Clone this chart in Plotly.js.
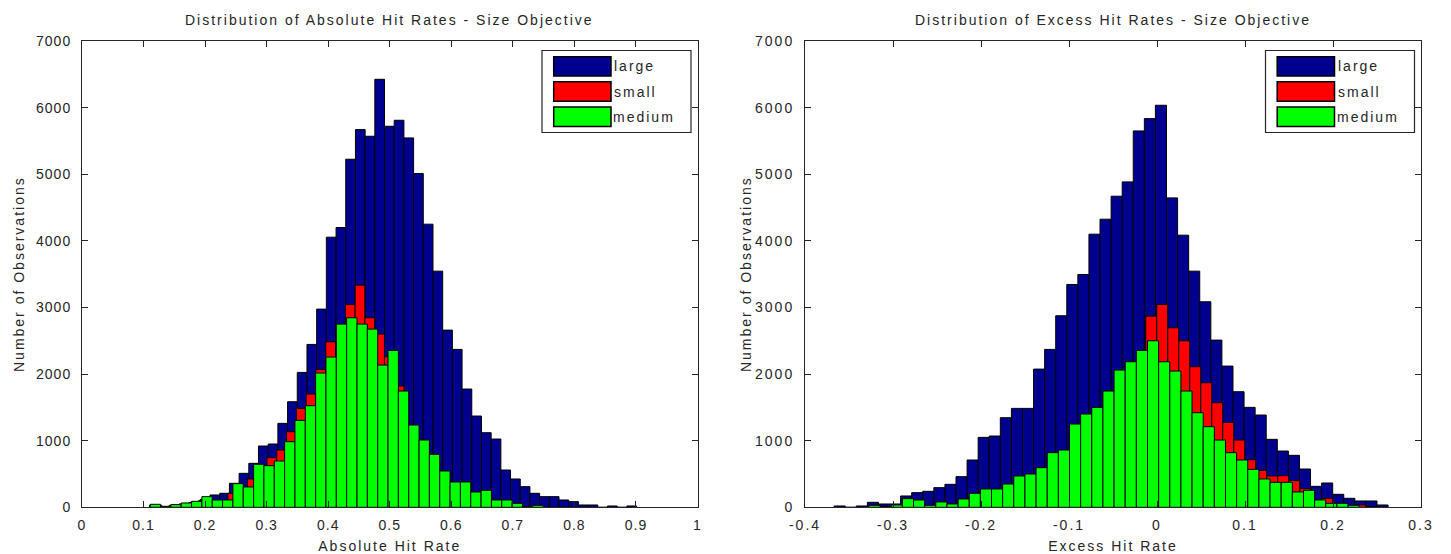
<!DOCTYPE html>
<html>
<head>
<meta charset="utf-8">
<script src="https://cdn.plot.ly/plotly-3.0.1.min.js"></script>
<style>
html, body { margin: 0; padding: 0; background: #ffffff; }
#chart { width: 1451px; height: 554px; }
.main-svg text { letter-spacing: 2px; }
.xtick text, .ytick text { letter-spacing: 1px !important; }
</style>
</head>
<body>
<div id="chart"></div>
<script>
// ---------- series ----------
const seriesNames = ['large', 'small', 'medium'];
const seriesColors = ['#00008f', '#ff0000', '#00ff00'];

// ---------- left panel: Absolute Hit Rate (each series has its own histogram bins) ----------
const absLargeBinStart = 0.1135, absLargeBinWidth = 0.01575;
const absLarge = [30, 10, 35, 55, 80, 120, 185, 210, 360, 510,
                  660, 920, 950, 1260, 1585, 2025, 2445, 2975, 4055, 4200,
                  5225, 5670, 5570, 6425, 5720, 5810, 5545, 5010, 4250, 3545,
                  2660, 2370, 1775, 1370, 1120, 1025, 560, 425, 310, 210,
                  160, 160, 110, 85, 35, 35, 0, 20, 0, 20];

const absSmallBinStart = 0.1098, absSmallBinWidth = 0.0159;
const absSmall = [30, 10, 30, 50, 70, 100, 100, 100, 210, 290,
                  425, 560, 745, 860, 1135, 1485, 1700, 2070, 2485, 2700,
                  3045, 3335, 2845, 2600, 2260, 1820, 1200, 950, 760, 520,
                  370, 340, 220, 200, 150, 100, 80, 40, 10, 5];

const absMediumBinStart = 0.1108, absMediumBinWidth = 0.0168;
const absMedium = [45, 15, 40, 65, 90, 160, 110, 110, 355, 305,
                   645, 625, 695, 985, 1305, 1525, 2015, 2255, 2750, 2845,
                   2750, 2675, 2135, 2355, 1745, 1235, 1010, 795, 545, 380,
                   380, 230, 255, 110, 110, 60, 10, 30];

// ---------- right panel: Excess Hit Rate ----------
const excLargeBinStart = -0.3669, excLargeBinWidth = 0.01259;
const excLarge = [20, 0, 20, 75, 50, 50, 170, 220, 240, 295,
                  345, 460, 710, 1050, 1070, 1345, 1485, 1485, 2075, 2370,
                  2875, 3345, 3495, 4100, 4325, 4670, 4885, 5650, 5835, 6035,
                  4645, 4085, 3545, 3085, 2510, 2120, 1735, 1500, 1385, 1020,
                  845, 780, 575, 315, 365, 195, 135, 95, 95, 35];

const excSmallBinStart = -0.3253, excSmallBinWidth = 0.0125;
const excSmall = [10, 10, 30, 100, 25, 25, 45, 45, 115, 200,
                  260, 260, 330, 340, 450, 480, 580, 800, 840, 1230,
                  1380, 1480, 1720, 2030, 2150, 2870, 3045, 2695, 2500, 2110,
                  1870, 1570, 1275, 1010, 715, 555, 470, 475, 400, 280,
                  100, 135, 50, 25, 35, 10];

const excMediumBinStart = -0.3273, excMediumBinWidth = 0.01266;
const excMedium = [30, 10, 35, 130, 110, 30, 80, 50, 125, 210,
                   275, 275, 350, 470, 500, 595, 820, 860, 1250, 1400,
                   1500, 1745, 2060, 2185, 2355, 2500, 2185, 2045, 1745, 1420,
                   1210, 1010, 820, 710, 570, 425, 375, 375, 230, 255,
                   110, 60, 60, 30];

// ---------- tick labels & texts ----------
const absTickLabels = ['0', '0.1', '0.2', '0.3', '0.4', '0.5', '0.6', '0.7', '0.8', '0.9', '1'];
const excTickLabels = ['-0.4', '-0.3', '-0.2', '-0.1', '0', '0.1', '0.2', '0.3'];
const countTickLabels = ['0', '1000', '2000', '3000', '4000', '5000', '6000', '7000'];
const leftTitle = 'Distribution of Absolute Hit Rates - Size Objective';
const rightTitle = 'Distribution of Excess Hit Rates - Size Objective';
const leftXTitle = 'Absolute Hit Rate';
const rightXTitle = 'Excess Hit Rate';
const yTitle = 'Number of Observations';

// ---------- layout helpers (pixel geometry of the figure) ----------
const W = 1451, H = 554;
const fx = v => v / W;
const fy = v => 1 - v / H;
const FONT = 'Liberation Sans, Arial, Helvetica, sans-serif';
const TXT = '#262626';

const plotTop = 41, plotBottom = 507.3;
const leftPlot = [82, 697.5];
const rightPlot = [805, 1421];

function histTrace(values, start, width, idx, xa, ya) {
  return {
    type: 'bar',
    name: seriesNames[idx],
    y: values,
    x0: start + width / 2,
    dx: width,
    width: width,
    xaxis: xa, yaxis: ya,
    marker: { color: seriesColors[idx], line: { color: '#000000', width: 1 } },
    showlegend: false,
    hoverinfo: 'skip'
  };
}

const traces = [
  histTrace(absLarge, absLargeBinStart, absLargeBinWidth, 0, 'x', 'y'),
  histTrace(absSmall, absSmallBinStart, absSmallBinWidth, 1, 'x', 'y'),
  histTrace(absMedium, absMediumBinStart, absMediumBinWidth, 2, 'x', 'y'),
  histTrace(excLarge, excLargeBinStart, excLargeBinWidth, 0, 'x2', 'y2'),
  histTrace(excSmall, excSmallBinStart, excSmallBinWidth, 1, 'x2', 'y2'),
  histTrace(excMedium, excMediumBinStart, excMediumBinWidth, 2, 'x2', 'y2')
];

const tickFont = { family: FONT, size: 14, color: TXT };
const titleFont = { family: FONT, size: 14, color: TXT };

function baseAxis() {
  return {
    showline: true, linecolor: TXT, linewidth: 1, mirror: 'ticks',
    ticks: 'inside', ticklen: 6, tickwidth: 1, tickcolor: TXT,
    showgrid: false, zeroline: false, fixedrange: true,
    tickfont: tickFont, automargin: true
  };
}

function xAxis(domainPx, labels, titleText, anchor) {
  const vals = labels.map(Number);
  return Object.assign(baseAxis(), {
    domain: [fx(domainPx[0]), fx(domainPx[1])],
    range: [vals[0], vals[vals.length - 1]],
    tickmode: 'array', tickvals: vals, ticktext: labels,
    ticklabelstandoff: 5,
    anchor: anchor,
    title: { text: titleText, font: titleFont, standoff: 9 }
  });
}

function yAxis(anchor) {
  const vals = countTickLabels.map(Number);
  return Object.assign(baseAxis(), {
    domain: [fy(plotBottom), fy(plotTop)],
    range: [vals[0], vals[vals.length - 1]],
    tickmode: 'array', tickvals: vals, ticktext: countTickLabels,
    ticklabelstandoff: 7,
    anchor: anchor,
    title: { text: yTitle, font: titleFont, standoff: 8 }
  });
}

// manual MATLAB-style legend drawn inside the upper right corner of each panel
function legendParts(plotRightPx) {
  const shapes = [], annotations = [];
  const boxRight = plotRightPx - 6.5, boxLeft = boxRight - 149;
  const boxTop = 50.5, boxBottom = 132.5;
  shapes.push({ type: 'rect', xref: 'paper', yref: 'paper',
    x0: fx(boxLeft), x1: fx(boxRight), y0: fy(boxBottom), y1: fy(boxTop),
    line: { color: TXT, width: 1.2 }, fillcolor: '#ffffff', layer: 'above' });
  const rowCenters = [66.4, 91.5, 116.7];
  seriesNames.forEach((name, i) => {
    const c = rowCenters[i];
    shapes.push({ type: 'rect', xref: 'paper', yref: 'paper',
      x0: fx(boxLeft + 11.7), x1: fx(boxLeft + 69), y0: fy(c + 9.7), y1: fy(c - 9.7),
      line: { color: '#000000', width: 1.5 }, fillcolor: seriesColors[i], layer: 'above' });
    annotations.push({ xref: 'paper', yref: 'paper', x: fx(boxLeft + 75), y: fy(c),
      xanchor: 'left', yanchor: 'middle', showarrow: false, text: name,
      font: { family: FONT, size: 14, color: TXT } });
  });
  return { shapes, annotations };
}

const legL = legendParts(leftPlot[1]);
const legR = legendParts(rightPlot[1]);

const titleAnnotations = [
  { xref: 'x domain', yref: 'paper', x: 0.5, y: fy(20), xanchor: 'center', yanchor: 'middle',
    showarrow: false, text: leftTitle, font: titleFont },
  { xref: 'x2 domain', yref: 'paper', x: 0.5, y: fy(20), xanchor: 'center', yanchor: 'middle',
    showarrow: false, text: rightTitle, font: titleFont }
];

const layout = {
  width: W, height: H,
  margin: { l: 0, r: 0, t: 0, b: 0, pad: 0, autoexpand: false },
  paper_bgcolor: '#ffffff', plot_bgcolor: '#ffffff',
  barmode: 'overlay', bargap: 0,
  showlegend: false,
  font: { family: FONT, size: 14, color: TXT },
  xaxis: xAxis(leftPlot, absTickLabels, leftXTitle, 'y'),
  yaxis: yAxis('x'),
  xaxis2: xAxis(rightPlot, excTickLabels, rightXTitle, 'y2'),
  yaxis2: yAxis('x2'),
  shapes: legL.shapes.concat(legR.shapes),
  annotations: titleAnnotations.concat(legL.annotations, legR.annotations)
};

Plotly.newPlot('chart', traces, layout, { displayModeBar: false, staticPlot: true });
</script>
</body>
</html>
